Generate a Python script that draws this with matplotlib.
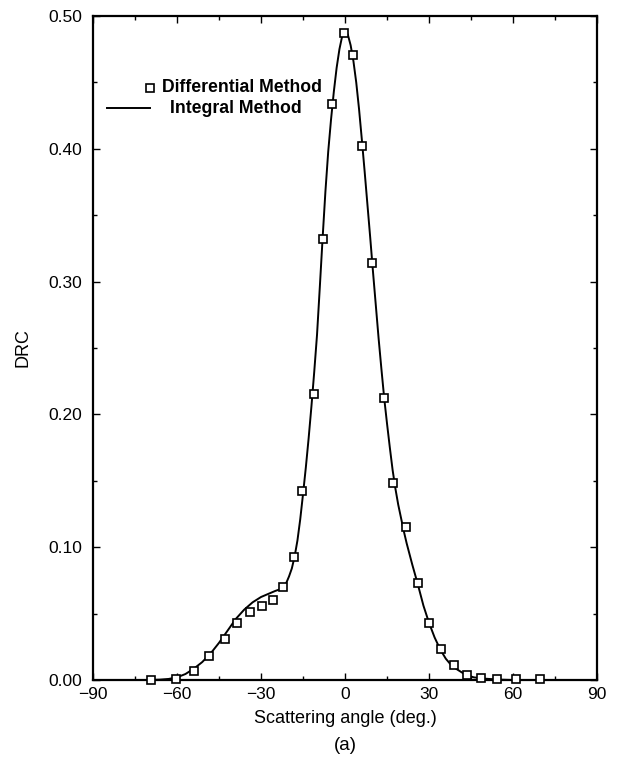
import numpy as np
import matplotlib.pyplot as plt
from matplotlib.ticker import MultipleLocator, FormatStrFormatter

plt.rcParams['font.family'] = ['Liberation Sans', 'DejaVu Sans']

# differential method (markers)
diff_angle = [-69.2, -60.5, -54.0, -48.4, -43.0, -38.6, -34.1, -29.8, -25.8, -22.0,
              -18.1, -15.2, -11.2, -8.0, -4.5, -0.5, 2.7, 6.2, 9.8, 13.8,
              17.3, 21.6, 26.0, 29.9, 34.1, 38.8, 43.4, 48.6, 54.2, 61.1, 69.8]
diff_drc = [0.000, 0.001, 0.007, 0.018, 0.031, 0.043, 0.051, 0.056, 0.060, 0.070,
            0.093, 0.142, 0.215, 0.332, 0.434, 0.487, 0.471, 0.402, 0.314, 0.212,
            0.148, 0.115, 0.073, 0.043, 0.023, 0.011, 0.004, 0.0015, 0.001, 0.001, 0.001]

# integral method (curve)
int_angle = [-90, -70, -66, -63, -60, -57, -54, -51, -48, -45, -42, -39, -36, -33,
             -30, -27, -25, -23, -22, -21, -20, -19, -18, -17, -16, -15, -14, -13,
             -12, -11, -10, -9, -8, -7, -6, -5, -4, -3, -2, -1, 0, 1, 2, 3, 4, 5,
             6, 7, 8, 9, 10, 11, 12, 13, 14, 15, 16, 17, 18, 19, 20, 21, 22, 24,
             26, 28, 30, 32, 34, 36, 38, 40, 43, 46, 50, 55, 60, 90]
int_drc = [0.0, 0.0, 0.0003, 0.0008, 0.002, 0.0045, 0.0085, 0.0135, 0.020, 0.028,
           0.037, 0.046, 0.053, 0.0585, 0.0625, 0.0652, 0.067, 0.0685, 0.070, 0.073,
           0.078, 0.084, 0.093, 0.105, 0.121, 0.140, 0.160, 0.182, 0.206, 0.232,
           0.260, 0.296, 0.333, 0.368, 0.398, 0.422, 0.443, 0.461, 0.475, 0.485,
           0.489, 0.486, 0.478, 0.466, 0.450, 0.430, 0.407, 0.383, 0.358, 0.333,
           0.307, 0.282, 0.257, 0.234, 0.212, 0.193, 0.175, 0.158, 0.144, 0.132,
           0.122, 0.112, 0.103, 0.087, 0.072, 0.056, 0.043, 0.032, 0.023, 0.016,
           0.011, 0.008, 0.004, 0.002, 0.001, 0.0003, 0.0, 0.0]

fig = plt.figure(figsize=(6.2, 7.62), dpi=100)
ax = fig.add_axes([0.150, 0.1076, 0.813, 0.8714])

ax.plot(int_angle, int_drc, color='black', lw=1.4, zorder=2)
ax.plot(diff_angle, diff_drc, 's', ms=5.5, mfc='white', mec='black', mew=1.2,
        zorder=3, clip_on=False)

ax.set_xlim(-90, 90)
ax.set_ylim(0, 0.5)
ax.xaxis.set_major_locator(MultipleLocator(30))
ax.xaxis.set_minor_locator(MultipleLocator(15))
ax.yaxis.set_major_locator(MultipleLocator(0.1))
ax.yaxis.set_minor_locator(MultipleLocator(0.05))
ax.yaxis.set_major_formatter(FormatStrFormatter('%.2f'))
ax.tick_params(which='both', direction='in', top=True, right=True, labelsize=12.5)
ax.tick_params(axis='x', which='major', pad=5)
ax.tick_params(axis='y', which='major', pad=8)
ax.tick_params(which='major', length=5, width=1)
ax.tick_params(which='minor', length=3, width=1)
for s in ax.spines.values():
    s.set_linewidth(1.6)

ax.set_xlabel('Scattering angle (deg.)', fontsize=13, labelpad=6)
ax.set_ylabel('DRC', fontsize=13, labelpad=12)

# legend drawn by hand to match the offset layout
ax.plot([0.114], [0.892], 's', ms=5.5, mfc='white', mec='black', mew=1.2,
        transform=ax.transAxes)
ax.text(0.136, 0.892, 'Differential Method', transform=ax.transAxes,
        fontsize=12.7, fontweight='bold', va='center')
ax.plot([0.027, 0.113], [0.861, 0.861], color='black', lw=1.4,
        transform=ax.transAxes)
ax.text(0.153, 0.861, 'Integral Method', transform=ax.transAxes,
        fontsize=12.7, fontweight='bold', va='center')

fig.text(0.557, 0.022, '(a)', fontsize=13.5, ha='center', va='center')

fig.savefig('out.png', dpi=100)
